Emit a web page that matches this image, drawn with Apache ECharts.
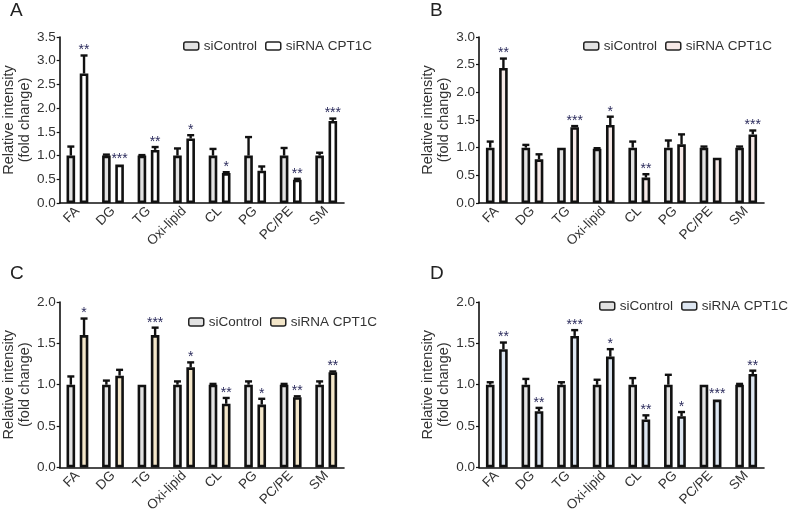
<!DOCTYPE html>
<html>
<head>
<meta charset="utf-8">
<script src="https://cdn.jsdelivr.net/npm/echarts@6/dist/echarts.min.js"></script>
<style>
  html, body { margin: 0; padding: 0; background: #fff; }
  #chart { width: 789px; height: 515px; }
</style>
</head>
<body>
<div id="chart"></div>
<script>
// Lipid classes on the x axis
const categories = ['FA', 'DG', 'TG', 'Oxi-lipid', 'CL', 'PG', 'PC/PE', 'SM'];

// Panel A
const ctrlA = [1, 1, 1, 1, 1, 1, 1, 1];
const ctrlErrA = [0.19, 0.02, 0.01, 0.15, 0.14, 0.39, 0.16, 0.06];
const siA = [2.73, 0.81, 1.12, 1.36, 0.63, 0.68, 0.49, 1.73];
const siErrA = [0.38, 0, 0.06, 0.07, 0.02, 0.09, 0.02, 0.05];
const sigA = ['**', '***', '**', '*', '*', '', '**', '***'];

// Panel B
const ctrlB = [1, 1, 1, 0.98, 1, 1, 1, 1];
const ctrlErrB = [0.11, 0.05, 0, 0.01, 0.11, 0.13, 0.02, 0.02];
const siB = [2.44, 0.79, 1.37, 1.41, 0.46, 1.06, 0.82, 1.24];
const siErrB = [0.17, 0.09, 0.02, 0.15, 0.06, 0.18, 0, 0.07];
const sigB = ['**', '', '***', '*', '**', '', '', '***'];

// Panel C
const ctrlC = [1, 1, 1, 1, 1, 1, 1, 1];
const ctrlErrC = [0.1, 0.05, 0, 0.04, 0.01, 0.04, 0.01, 0.04];
const siC = [1.6, 1.11, 1.6, 1.21, 0.77, 0.76, 0.85, 1.15];
const siErrC = [0.2, 0.07, 0.09, 0.06, 0.07, 0.07, 0.01, 0.01];
const sigC = ['*', '', '***', '*', '**', '*', '**', '**'];

// Panel D
const ctrlD = [1, 1, 1, 1, 1, 1, 1, 1];
const ctrlErrD = [0.03, 0.07, 0.03, 0.06, 0.08, 0.12, 0, 0.01];
const siD = [1.43, 0.68, 1.59, 1.34, 0.58, 0.62, 0.82, 1.13];
const siErrD = [0.08, 0.04, 0.07, 0.09, 0.05, 0.05, 0, 0.04];
const sigD = ['**', '**', '***', '*', '**', '*', '***', '**'];

// Y axis tops (ticks every 0.5)
const yMaxA = 3.5, yMaxB = 3.0, yMaxC = 2.0, yMaxD = 2.0;

document.addEventListener('DOMContentLoaded', function() {
    const FONT = 'Arial, "Liberation Sans", sans-serif';
    const TEXT = '#333';
    const CTRL_FILL = '#e2e2e2';
    const BAR_W = 8.6;
    const BAR_GAP = 4.6;
    const OFFSET = (BAR_W + BAR_GAP) / 2;

    const panels = [
        { key: 'A', ctrl: ctrlA, ctrlErr: ctrlErrA, si: siA, siErr: siErrA, sig: sigA, max: yMaxA,
          fill: '#ffffff', left: 59, top: 37, legend: [183, 39], letter: [10, 1] },
        { key: 'B', ctrl: ctrlB, ctrlErr: ctrlErrB, si: siB, siErr: siErrB, sig: sigB, max: yMaxB,
          fill: '#f6e9e7', left: 479, top: 37, legend: [583, 39], letter: [430, 1] },
        { key: 'C', ctrl: ctrlC, ctrlErr: ctrlErrC, si: siC, siErr: siErrC, sig: sigC, max: yMaxC,
          fill: '#f3e6c9', left: 59, top: 302, legend: [188, 315], letter: [10, 264] },
        { key: 'D', ctrl: ctrlD, ctrlErr: ctrlErrD, si: siD, siErr: siErrD, sig: sigD, max: yMaxD,
          fill: '#dde6f1', left: 479, top: 302, legend: [599, 299], letter: [430, 264] }
    ];

    // one-sided error bar with cap, plus significance stars above it
    function errorBarRenderer(offset) {
        return function(params, api) {
            const idx = api.value(0);
            const val = api.value(1);
            const err = api.value(2);
            const stars = api.value(3);
            const base = api.coord([idx, val]);
            const tip = api.coord([idx, val + err]);
            const x = base[0] + offset;
            const children = [];
            if (err > 0) {
                children.push({
                    type: 'line',
                    shape: { x1: x, y1: base[1], x2: x, y2: tip[1] },
                    style: { stroke: '#111', lineWidth: 2.4 }
                });
                children.push({
                    type: 'line',
                    shape: { x1: x - 3.5, y1: tip[1], x2: x + 3.5, y2: tip[1] },
                    style: { stroke: '#111', lineWidth: 2.4 }
                });
            }
            if (stars && stars !== '-') {
                children.push({
                    type: 'text',
                    style: {
                        x: x, y: tip[1] + 2, text: stars,
                        align: 'center', verticalAlign: 'bottom',
                        font: '14px ' + FONT, fill: '#2b2b5c'
                    }
                });
            }
            return { type: 'group', children: children };
        };
    }

    const option = {
        animation: false,
        backgroundColor: '#fff',
        title: [], legend: [], grid: [], xAxis: [], yAxis: [], series: []
    };

    panels.forEach(function(p, i) {
        option.title.push({
            text: p.key, left: p.letter[0], top: p.letter[1], padding: 0,
            textStyle: { fontFamily: FONT, fontSize: 19, fontWeight: 'normal', color: '#222' }
        });
        option.grid.push({ left: p.left, top: p.top, width: 285, height: 166 });
        option.xAxis.push({
            type: 'category', gridIndex: i, data: categories,
            axisLine: { lineStyle: { color: '#111', width: 1.6 } },
            axisTick: { alignWithLabel: true, length: 3, lineStyle: { color: '#111', width: 1.2 } },
            axisLabel: { rotate: 45, margin: 6, fontFamily: FONT, fontSize: 13.5, color: TEXT, interval: 0 }
        });
        option.yAxis.push({
            type: 'value', gridIndex: i, min: 0, max: p.max, interval: 0.5,
            name: 'Relative intensity\n(fold change)', nameLocation: 'middle', nameGap: 21,
            nameTextStyle: { fontFamily: FONT, fontSize: 14.5, lineHeight: 16, color: TEXT },
            axisLine: { show: true, lineStyle: { color: '#111', width: 1.6 } },
            axisTick: { show: true, length: 3, lineStyle: { color: '#111', width: 1.2 } },
            axisLabel: { margin: 4, fontFamily: FONT, fontSize: 13.5, color: TEXT,
                         formatter: function(v) { return v.toFixed(1); } },
            splitLine: { show: false }
        });

        const ctrlName = p.key + ':siControl';
        const siName = p.key + ':siRNA CPT1C';
        option.legend.push({
            left: p.legend[0], top: p.legend[1], width: 230, padding: 0, itemGap: 8,
            itemWidth: 15, itemHeight: 8, itemStyle: { borderColor: '#222', borderWidth: 1.5 },
            textStyle: { fontFamily: FONT, fontSize: 13.5, color: TEXT },
            formatter: function(name) { return name.split(':')[1]; },
            data: [ctrlName, siName]
        });

        const barStyle = { borderColor: '#111', borderWidth: 2.6 };
        option.series.push({
            name: ctrlName, type: 'bar', xAxisIndex: i, yAxisIndex: i,
            barWidth: BAR_W, barGap: (BAR_GAP / BAR_W * 100) + '%',
            itemStyle: Object.assign({ color: CTRL_FILL }, barStyle),
            data: p.ctrl
        });
        option.series.push({
            name: siName, type: 'bar', xAxisIndex: i, yAxisIndex: i,
            barWidth: BAR_W, barGap: (BAR_GAP / BAR_W * 100) + '%',
            itemStyle: Object.assign({ color: p.fill }, barStyle),
            data: p.si
        });

        // error bars for both groups
        option.series.push({
            type: 'custom', xAxisIndex: i, yAxisIndex: i, z: 3,
            renderItem: errorBarRenderer(-OFFSET),
            data: p.ctrl.map(function(v, k) { return [k, v, p.ctrlErr[k], '-']; })
        });
        option.series.push({
            type: 'custom', xAxisIndex: i, yAxisIndex: i, z: 3,
            renderItem: errorBarRenderer(OFFSET),
            data: p.si.map(function(v, k) { return [k, v, p.siErr[k], p.sig[k] || '-']; })
        });
    });

    const chart = echarts.init(document.getElementById('chart'), null, { renderer: 'canvas' });
    chart.setOption(option);
});
</script>
</body>
</html>
